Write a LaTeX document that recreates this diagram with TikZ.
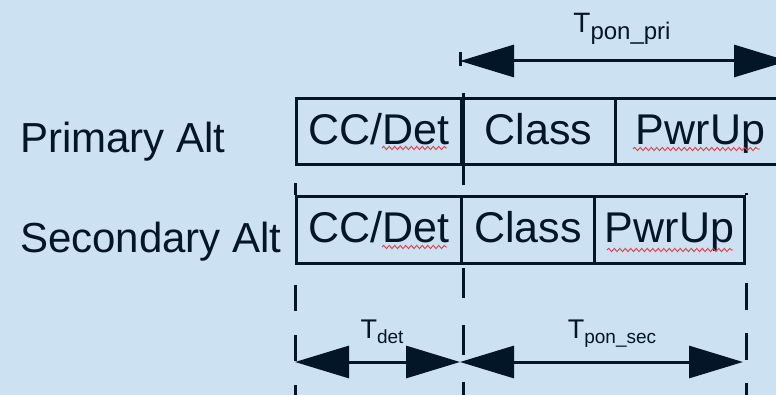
\documentclass[tikz,border=0pt]{standalone}
\usepackage{fontspec}
\setmainfont{Liberation Sans}
\usetikzlibrary{arrows.meta,decorations.pathmorphing}
\definecolor{cbg}{RGB}{204,225,242}
\definecolor{cink}{RGB}{3,22,39}
\definecolor{cspell}{RGB}{225,60,70}
\newcommand{\Tlab}[4]{{\fontsize{#1}{#1}\selectfont T}\raisebox{-#3}{\fontsize{#2}{#2}\selectfont #4}}

\begin{document}
\begin{tikzpicture}[x=1pt, y=-1pt,
      cell/.style={draw=cink, line width=3pt, minimum height=66pt, inner sep=0pt, anchor=north west,
                   font=\fontsize{43}{43}\selectfont, text=cink, text height=26pt, text depth=0pt},
      rowlabel/.style={anchor=base west, inner sep=0pt, font=\fontsize{42}{42}\selectfont, text=cink},
      tlabel/.style={anchor=base, inner sep=0pt, text=cink},
      edge/.style={draw=cink, line width=3pt},
      guide/.style={draw=cink, line width=3pt},
      dimarrow/.style={draw=cink, line width=3pt,
                       {Triangle[length=54pt,width=32pt]}-{Triangle[length=54pt,width=32pt]}},
      spell/.style={draw=cspell, line width=0.9pt, decorate,
                    decoration={snake, amplitude=1.6pt, segment length=5.5pt}}
    ]
    \useasboundingbox[fill=cbg] (0,0) rectangle (776,395);

    % row labels
    \node[rowlabel] (prim) at (20,153) {Primary Alt};
    \node[rowlabel] (sec) at (20,253) {Secondary Alt};

    % primary row
    \node[cell, minimum width=165pt] (pcc) at (295,97) {CC/Det};
    \node[cell, minimum width=154pt] (pcl) at (460,97) {Class};
    \node[cell, minimum width=170pt] (ppw) at (614,97) {PwrUp};

    % secondary row
    \node[cell, minimum width=165pt, minimum height=67pt] (scc) at (295,195) {CC/Det};
    \node[cell, minimum width=133pt, minimum height=67pt] (scl) at (460,195) {Class};
    \node[cell, minimum width=150pt, minimum height=67pt] (spw) at (593,195) {PwrUp};

    % line extensions
    \draw[edge] ([yshift=4pt]pcc.north east) -- ([yshift=-19pt]pcc.south east);
    \draw[edge] ([yshift=12pt]scc.north west) -- (scc.north west);
    \draw[edge] ([yshift=2pt]spw.north east) -- (spw.north east);
    \coordinate (ptick) at (460,52);
    \draw[edge] (ptick) -- ++(0,14);

    % dashed guides
    \draw[guide, dash pattern=on 26pt off 24pt, dash phase=30pt] (scc.south west) -- ++(0,140);
    \draw[guide, dash pattern=on 30pt off 27pt, dash phase=54pt] (scc.south east) -- ++(0,140);
    \draw[guide, dash pattern=on 27pt off 23pt, dash phase=32pt] (spw.south east) -- ++(0,140);

    % timing arrows
    \coordinate (priL) at (460,61);
    \coordinate (priR) at (788,61);
    \coordinate (detL) at (295,362);
    \coordinate (detR) at (460,362);
    \coordinate (secR) at (743,362);
    \draw[dimarrow] (priL) -- (priR);
    \draw[dimarrow] (detL) -- (detR);
    \draw[dimarrow] (detR) -- (secR);
    \node[tlabel] (tpri) at (622,33) {\Tlab{28}{24}{7pt}{pon\_pri}};
    \node[tlabel] (tdet) at (382,338) {\Tlab{27}{19}{5pt}{det}};
    \node[tlabel] (tsec) at (612,338) {\Tlab{27}{19}{5pt}{pon\_sec}};

    % spell-check marks
    \draw[spell] (382,148) -- (447,148);
    \draw[spell] (633,149) -- (760,149);
    \draw[spell] (382,247) -- (447,247);
    \draw[spell] (607,250) -- (733,250);
  \end{tikzpicture}
\end{document}
